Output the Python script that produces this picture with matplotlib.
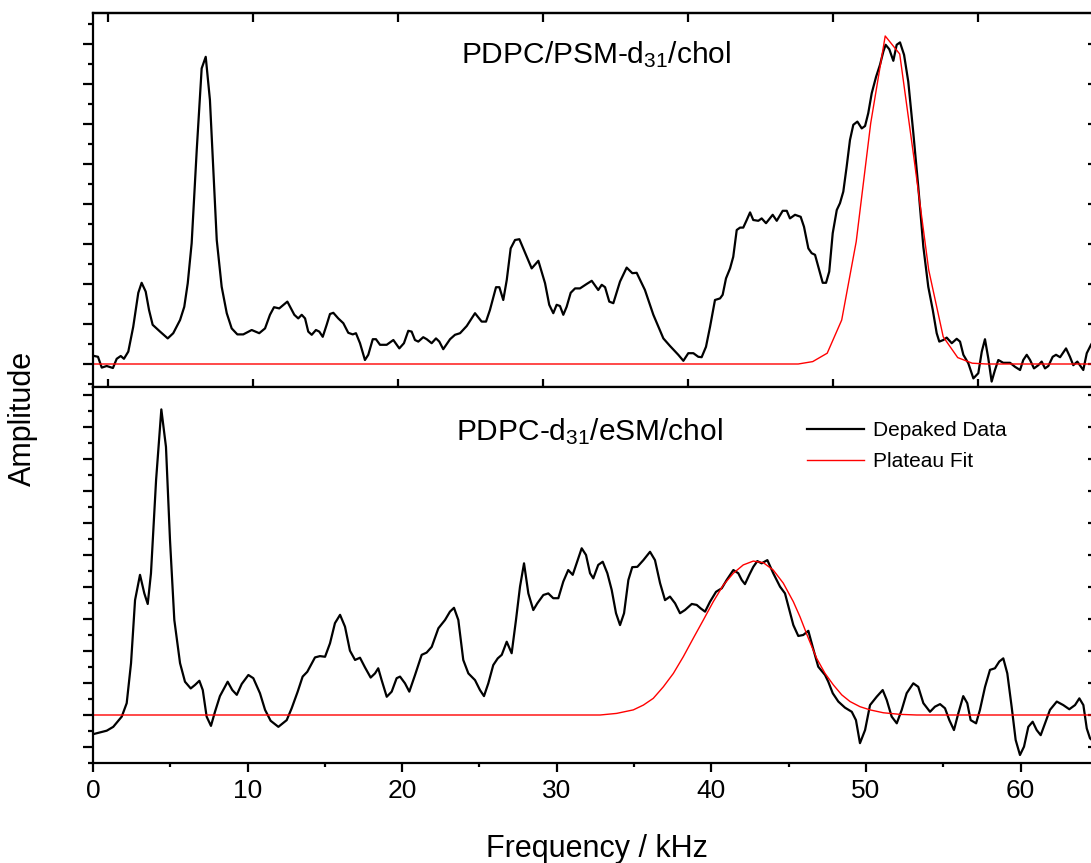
import matplotlib
matplotlib.use("Agg")
import matplotlib.pyplot as plt
from matplotlib.ticker import MultipleLocator, NullFormatter
from matplotlib.lines import Line2D

plt.rcParams['font.family'] = ['Liberation Sans', 'DejaVu Sans']
plt.rcParams['mathtext.fontset'] = 'custom'
plt.rcParams['mathtext.rm'] = 'Liberation Sans'
plt.rcParams['mathtext.it'] = 'Liberation Sans:italic'

# ---------------- data: top panel (PDPC/PSM-d31/chol) ----------------
top_x = [-0.94, -0.69, -0.43, -0.09, 0.34, 0.60, 0.88, 1.10, 1.40, 1.74, 2.09, 2.32, 2.60, 2.83, 3.08,
         3.59, 4.12, 4.50, 4.97, 5.26, 5.50, 5.77, 6.12, 6.46, 6.74, 7.03, 7.50, 7.84, 8.19, 8.53,
         8.92, 9.33, 9.91, 10.43, 10.83, 11.17, 11.45, 11.81, 12.37, 12.85, 13.12, 13.36, 13.59, 13.81,
         14.05, 14.34, 14.57, 14.81, 15.08, 15.31, 15.54, 15.88, 16.23, 16.57, 16.88, 17.10, 17.38,
         17.72, 17.95, 18.26, 18.48, 18.76, 19.22, 19.68, 20.09, 20.41, 20.71, 20.94, 21.17, 21.40,
         21.74, 21.98, 22.32, 22.62, 22.85, 23.12, 23.59, 23.93, 24.28, 24.74, 25.31, 25.77, 26.07,
         26.34, 26.76, 26.99, 27.26, 27.50, 27.77, 28.07, 28.37, 28.88, 29.22, 29.68, 30.14, 30.43,
         30.71, 30.94, 31.17, 31.40, 31.63, 31.91, 32.21, 32.55, 33.01, 33.36, 33.81, 34.05, 34.28,
         34.57, 34.85, 35.31, 35.77, 36.16, 36.46, 37.03, 37.61, 38.30, 38.76, 39.33, 39.68, 40.02,
         40.37, 40.71, 40.94, 41.24, 41.52, 41.86, 42.21, 42.39, 42.62, 42.90, 43.12, 43.36, 43.59,
         43.81, 44.05, 44.28, 44.50, 44.85, 45.08, 45.38, 45.84, 46.12, 46.53, 46.81, 47.03, 47.38,
         47.77, 48.00, 48.30, 48.53, 48.76, 48.99, 49.29, 49.52, 49.74, 49.98, 50.26, 50.48, 50.71,
         50.94, 51.17, 51.40, 51.68, 51.98, 52.21, 52.43, 52.67, 52.97, 53.24, 53.47, 53.63, 53.88,
         54.16, 54.39, 54.62, 54.90, 55.19, 55.54, 55.88, 56.23, 56.57, 56.88, 57.15, 57.33, 57.61,
         57.84, 58.19, 58.53, 58.76, 58.99, 59.33, 59.68, 60.02, 60.26, 60.48, 60.71, 60.94, 61.17,
         61.40, 61.74, 62.21, 62.55, 62.90, 63.12, 63.36, 63.59, 63.86, 64.16, 64.39, 64.62, 64.85,
         65.15, 65.38, 65.66, 66.07, 66.34, 66.57, 66.85, 67.26, 67.50, 67.79, 68.07]
top_y = [0.20, 0.18, -0.09, -0.05, -0.10, 0.13, 0.20, 0.13, 0.31, 0.93, 1.78, 2.03, 1.81, 1.35, 0.98,
         0.81, 0.64, 0.77, 1.10, 1.43, 2.02, 3.02, 5.35, 7.39, 7.68, 6.60, 3.10, 1.93, 1.27, 0.89,
         0.74, 0.74, 0.85, 0.77, 0.89, 1.23, 1.42, 1.39, 1.56, 1.23, 1.14, 1.23, 1.14, 0.81,
         0.73, 0.85, 0.81, 0.68, 0.98, 1.25, 1.28, 1.14, 1.02, 0.78, 0.74, 0.77, 0.52,
         0.10, 0.23, 0.62, 0.62, 0.48, 0.48, 0.60, 0.39, 0.52, 0.83, 0.81, 0.60, 0.56,
         0.67, 0.62, 0.52, 0.64, 0.56, 0.37, 0.62, 0.73, 0.77, 0.95, 1.27, 1.06, 1.06,
         1.35, 1.92, 1.92, 1.60, 2.10, 2.89, 3.10, 3.12, 2.68, 2.39, 2.58, 2.02, 1.48,
         1.27, 1.48, 1.45, 1.23, 1.43, 1.78, 1.89, 1.89, 2.00, 2.08, 1.85, 1.98, 1.92,
         1.56, 1.52, 2.06, 2.41, 2.27, 2.28, 1.85, 1.23, 0.64, 0.45, 0.23, 0.08, 0.27,
         0.27, 0.18, 0.17, 0.43, 0.93, 1.60, 1.64, 1.73, 2.14, 2.39, 2.68, 3.35, 3.41,
         3.41, 3.60, 3.79, 3.60, 3.58, 3.64, 3.52, 3.73, 3.58, 3.83, 3.83, 3.64, 3.73,
         3.68, 3.43, 2.89, 2.77, 2.73, 2.43, 2.03, 2.03, 2.31, 3.27, 3.85, 4.02, 4.31,
         4.93, 5.60, 5.98, 6.06, 5.89, 5.95, 6.27, 6.77, 7.18, 7.48, 7.81, 7.98, 7.87,
         7.58, 7.98, 8.04, 7.73, 7.06, 5.77, 4.43, 2.93, 1.93, 1.35, 0.77, 0.56, 0.60,
         0.66, 0.52, 0.63, 0.56, 0.23, 0.02, -0.36, -0.23, 0.31, 0.62, 0.14, -0.44, -0.15,
         0.10, 0.03, 0.03, -0.07, -0.15, 0.10, 0.23, 0.10, -0.11, -0.03, 0.06, -0.11, -0.05,
         0.18, 0.23, 0.17, 0.39, 0.18, -0.03, 0.06, -0.15, 0.27, 0.48, 0.65]

top_fit_x = [-1.0, 46.6, 47.6, 48.6, 49.6, 50.6, 51.6, 52.6, 53.6, 54.6, 55.6, 56.6, 57.6, 58.6,
             59.6, 60.6, 68.0]
top_fit_y = [0.0, 0.0, 0.0, 0.06, 0.27, 1.10, 3.06, 6.02, 8.20, 7.75, 5.10, 2.35, 0.68, 0.16,
             0.02, 0.0, 0.0]

# ---------------- data: bottom panel (PDPC-d31/eSM/chol) ----------------
bot_x = [0.08, 0.89, 1.31, 1.86, 2.18, 2.46, 2.72, 3.04, 3.32, 3.54, 3.75, 4.08, 4.42, 4.72, 4.98,
         5.26, 5.63, 5.95, 6.32, 6.60, 6.88, 7.10, 7.35, 7.63, 7.89, 8.21, 8.71, 9.01, 9.30, 9.62,
         10.05, 10.37, 10.80, 11.13, 11.49, 11.99, 12.53, 12.85, 13.24, 13.56, 13.86, 14.36, 14.68,
         15.01, 15.33, 15.65, 15.98, 16.30, 16.62, 16.95, 17.27, 17.59, 17.96, 18.24, 18.45, 18.67,
         19.00, 19.32, 19.64, 19.86, 20.18, 20.46, 20.83, 21.26, 21.58, 21.91, 22.34, 22.77, 23.09,
         23.35, 23.63, 23.95, 24.28, 24.71, 25.03, 25.29, 25.57, 25.89, 26.18, 26.44, 26.76, 27.08,
         27.36, 27.62, 27.88, 28.16, 28.48, 28.74, 29.13, 29.45, 29.77, 30.10, 30.42, 30.74, 31.03,
         31.35, 31.61, 31.89, 32.15, 32.36, 32.68, 32.97, 33.27, 33.55, 33.83, 34.09, 34.35, 34.63,
         34.88, 35.21, 35.60, 36.03, 36.35, 36.68, 37.00, 37.32, 37.65, 37.97, 38.29, 38.73, 39.05,
         39.31, 39.59, 39.91, 40.30, 40.67, 40.99, 41.42, 41.74, 41.96, 42.17, 42.45, 42.71, 42.97,
         43.25, 43.62, 44.00, 44.44, 44.76, 45.04, 45.30, 45.62, 45.94, 46.27, 46.55, 46.91, 47.35,
         47.56, 47.85, 48.21, 48.64, 49.08, 49.35, 49.61, 49.94, 50.26, 50.69, 51.08, 51.34, 51.66,
         51.99, 52.31, 52.63, 53.06, 53.38, 53.71, 54.14, 54.46, 54.79, 55.11, 55.39, 55.69, 55.97,
         56.29, 56.55, 56.77, 57.12, 57.37, 57.70, 58.02, 58.34, 58.62, 58.88, 59.14, 59.42, 59.68,
         59.96, 60.22, 60.50, 60.78, 61.04, 61.30, 61.58, 61.90, 62.34, 62.76, 63.15, 63.52, 63.80,
         64.06, 64.28, 64.49, 64.75]
bot_y = [-0.59, -0.49, -0.37, -0.05, 0.37, 1.62, 3.59, 4.38, 3.80, 3.47, 4.43, 7.34, 9.55, 8.38, 5.47,
         2.97, 1.62, 1.04, 0.83, 0.94, 1.07, 0.78, -0.05, -0.34, 0.10, 0.59, 1.04, 0.78, 0.63, 0.97,
         1.25, 1.15, 0.68, 0.16, -0.18, -0.37, -0.16, 0.21, 0.73, 1.20, 1.35, 1.80, 1.84,
         1.82, 2.24, 2.87, 3.13, 2.76, 2.01, 1.72, 1.79, 1.49, 1.17, 1.30, 1.46, 1.09,
         0.57, 0.73, 1.15, 1.20, 0.99, 0.73, 1.25, 1.88, 1.95, 2.13, 2.71, 2.97, 3.23,
         3.35, 2.97, 1.72, 1.30, 1.09, 0.78, 0.59, 0.99, 1.56, 1.77, 1.88, 2.29, 1.93,
         2.97, 4.01, 4.74, 3.80, 3.28, 3.49, 3.75, 3.80, 3.65, 3.65, 4.17, 4.53, 4.38,
         4.84, 5.21, 5.00, 4.43, 4.27, 4.69, 4.79, 4.43, 3.91, 3.18, 2.81, 3.18, 4.22,
         4.62, 4.63, 4.84, 5.10, 4.84, 4.12, 3.59, 3.70, 3.49, 3.18, 3.28, 3.47, 3.44,
         3.33, 3.23, 3.54, 3.85, 3.96, 4.22, 4.53, 4.43, 4.22, 4.09, 4.38, 4.63, 4.81,
         4.74, 4.84, 4.43, 4.01, 3.80, 3.28, 2.81, 2.47, 2.50, 2.63, 2.13, 1.51, 1.25,
         1.04, 0.68, 0.42, 0.23, 0.10, -0.16, -0.88, -0.47, 0.31, 0.57, 0.78, 0.47, -0.05,
         -0.26, 0.16, 0.68, 0.99, 0.88, 0.37, 0.10, 0.26, 0.34, 0.21, -0.16, -0.47, 0.05,
         0.59, 0.37, -0.16, -0.26, 0.16, 0.88, 1.41, 1.46, 1.67, 1.77, 1.30, 0.26, -0.78,
         -1.25, -0.99, -0.37, -0.21, -0.47, -0.63, -0.26, 0.16, 0.42, 0.31, 0.18, 0.31, 0.52,
         0.31, -0.42, -0.73, -0.84]

bot_fit_x = [0.0, 32.80, 33.87, 34.95, 35.60, 36.24, 36.89, 37.54, 38.18, 38.83, 39.48, 40.12, 40.77,
             41.42, 42.06, 42.71, 43.36, 44.00, 44.65, 45.30, 45.73, 46.27, 46.81, 47.35, 47.89,
             48.43, 48.97, 49.61, 50.26, 51.12, 52.20, 53.28, 64.8]
bot_fit_y = [0.0, 0.0, 0.05, 0.16, 0.31, 0.52, 0.88, 1.30, 1.82, 2.40, 2.97, 3.54, 4.06,
             4.43, 4.69, 4.81, 4.76, 4.53, 4.12, 3.54, 3.07, 2.40, 1.77, 1.30, 0.94,
             0.63, 0.42, 0.26, 0.16, 0.07, 0.02, 0.0, 0.0]

x_ticks = [0, 10, 20, 30, 40, 50, 60]
top_title = 'PDPC/PSM-d$_\\mathregular{31}$/chol'
bot_title = 'PDPC-d$_\\mathregular{31}$/eSM/chol'
legend_labels = ['Depaked Data', 'Plateau Fit']

# ---------------- figure ----------------
W_PX, H_PX = 1091, 863
fig = plt.figure(figsize=(W_PX / 100, H_PX / 100), dpi=100)

left = 93 / W_PX
width = (1093 - 93) / W_PX
ax1 = fig.add_axes([left, 1 - 387 / H_PX, width, (387 - 13.5) / H_PX])
ax2 = fig.add_axes([left, 1 - 763 / H_PX, width, (763 - 387) / H_PX])

SP_LW = 1.6
for ax in (ax1, ax2):
    for s in ax.spines.values():
        s.set_linewidth(SP_LW)

# top panel
ax1.plot(top_x, top_y, color='black', lw=1.6)
ax1.plot(top_fit_x, top_fit_y, color='#ff0000', lw=1.0)
ax1.set_xlim(-1.034, 67.93)
ax1.set_ylim(-0.575, 8.7625)
ax1.set_xticks(x_ticks)
ax1.xaxis.set_major_formatter(NullFormatter())
ax1.tick_params(axis='x', which='major', bottom=True, top=False, direction='inout',
                length=11, width=SP_LW, labelbottom=False)
ax1.yaxis.set_major_locator(MultipleLocator(1))
ax1.yaxis.set_minor_locator(MultipleLocator(0.5))
ax1.tick_params(axis='y', which='major', left=True, right=False, direction='out',
                length=7, width=SP_LW, labelleft=False)
ax1.tick_params(axis='y', which='minor', left=True, right=False, direction='out',
                length=3.6, width=SP_LW)
sx1 = ax1.secondary_xaxis('top')
sx1.set_xticks(x_ticks)
sx1.tick_params(axis='x', direction='in', length=6.5, width=SP_LW, labeltop=False)
sx1.spines['top'].set_linewidth(SP_LW)
sy1 = ax1.secondary_yaxis('right')
sy1.yaxis.set_major_locator(MultipleLocator(1))
sy1.tick_params(axis='y', direction='in', length=3.6, width=SP_LW, labelright=False)
sy1.spines['right'].set_linewidth(SP_LW)

fig.text(596.5 / W_PX, 1 - 63.3 / H_PX, top_title, ha='center', va='baseline', fontsize=21.5)

# bottom panel
ax2.plot(bot_x, bot_y, color='black', lw=1.6, solid_joinstyle='round')
ax2.plot(bot_fit_x, bot_fit_y, color='#ff0000', lw=1.0)
ax2.set_xlim(0, (1093 - 93) / 15.46)
ax2.set_ylim(-1.5, 10.25)
ax2.set_xticks(x_ticks)
ax2.xaxis.set_minor_locator(MultipleLocator(5))
ax2.tick_params(axis='x', which='major', bottom=True, top=False, direction='out',
                length=6.5, width=SP_LW, labelsize=19, pad=5)
ax2.tick_params(axis='x', which='minor', bottom=True, top=False, direction='out',
                length=3.2, width=SP_LW)
ax2.yaxis.set_major_locator(MultipleLocator(1))
ax2.yaxis.set_minor_locator(MultipleLocator(0.5))
ax2.tick_params(axis='y', which='major', left=True, right=False, direction='out',
                length=7, width=SP_LW, labelleft=False)
ax2.tick_params(axis='y', which='minor', left=True, right=False, direction='out',
                length=3.6, width=SP_LW)
sy2 = ax2.secondary_yaxis('right')
sy2.yaxis.set_major_locator(MultipleLocator(1))
sy2.tick_params(axis='y', direction='in', length=3.6, width=SP_LW, labelright=False)
sy2.spines['right'].set_linewidth(SP_LW)

fig.text(589 / W_PX, 1 - 440 / H_PX, bot_title, ha='center', va='baseline', fontsize=21.5)

ax2.legend([Line2D([], [], color='black', lw=1.6), Line2D([], [], color='#ff0000', lw=1.0)],
           legend_labels, loc='upper left', bbox_to_anchor=(807 / W_PX, 1 - 421 / H_PX),
           bbox_transform=fig.transFigure, frameon=False, fontsize=15,
           handlelength=2.75, handletextpad=0.42, labelspacing=0.57,
           borderpad=0, borderaxespad=0)

# axis labels
fig.text(596.5 / W_PX, 1 - 856.7 / H_PX, 'Frequency / kHz', ha='center', va='baseline', fontsize=22)
fig.text(23 / W_PX, 1 - 418.5 / H_PX, 'Amplitude', ha='center', va='center', rotation=90, fontsize=22)

fig.savefig('out.png', dpi=100)
